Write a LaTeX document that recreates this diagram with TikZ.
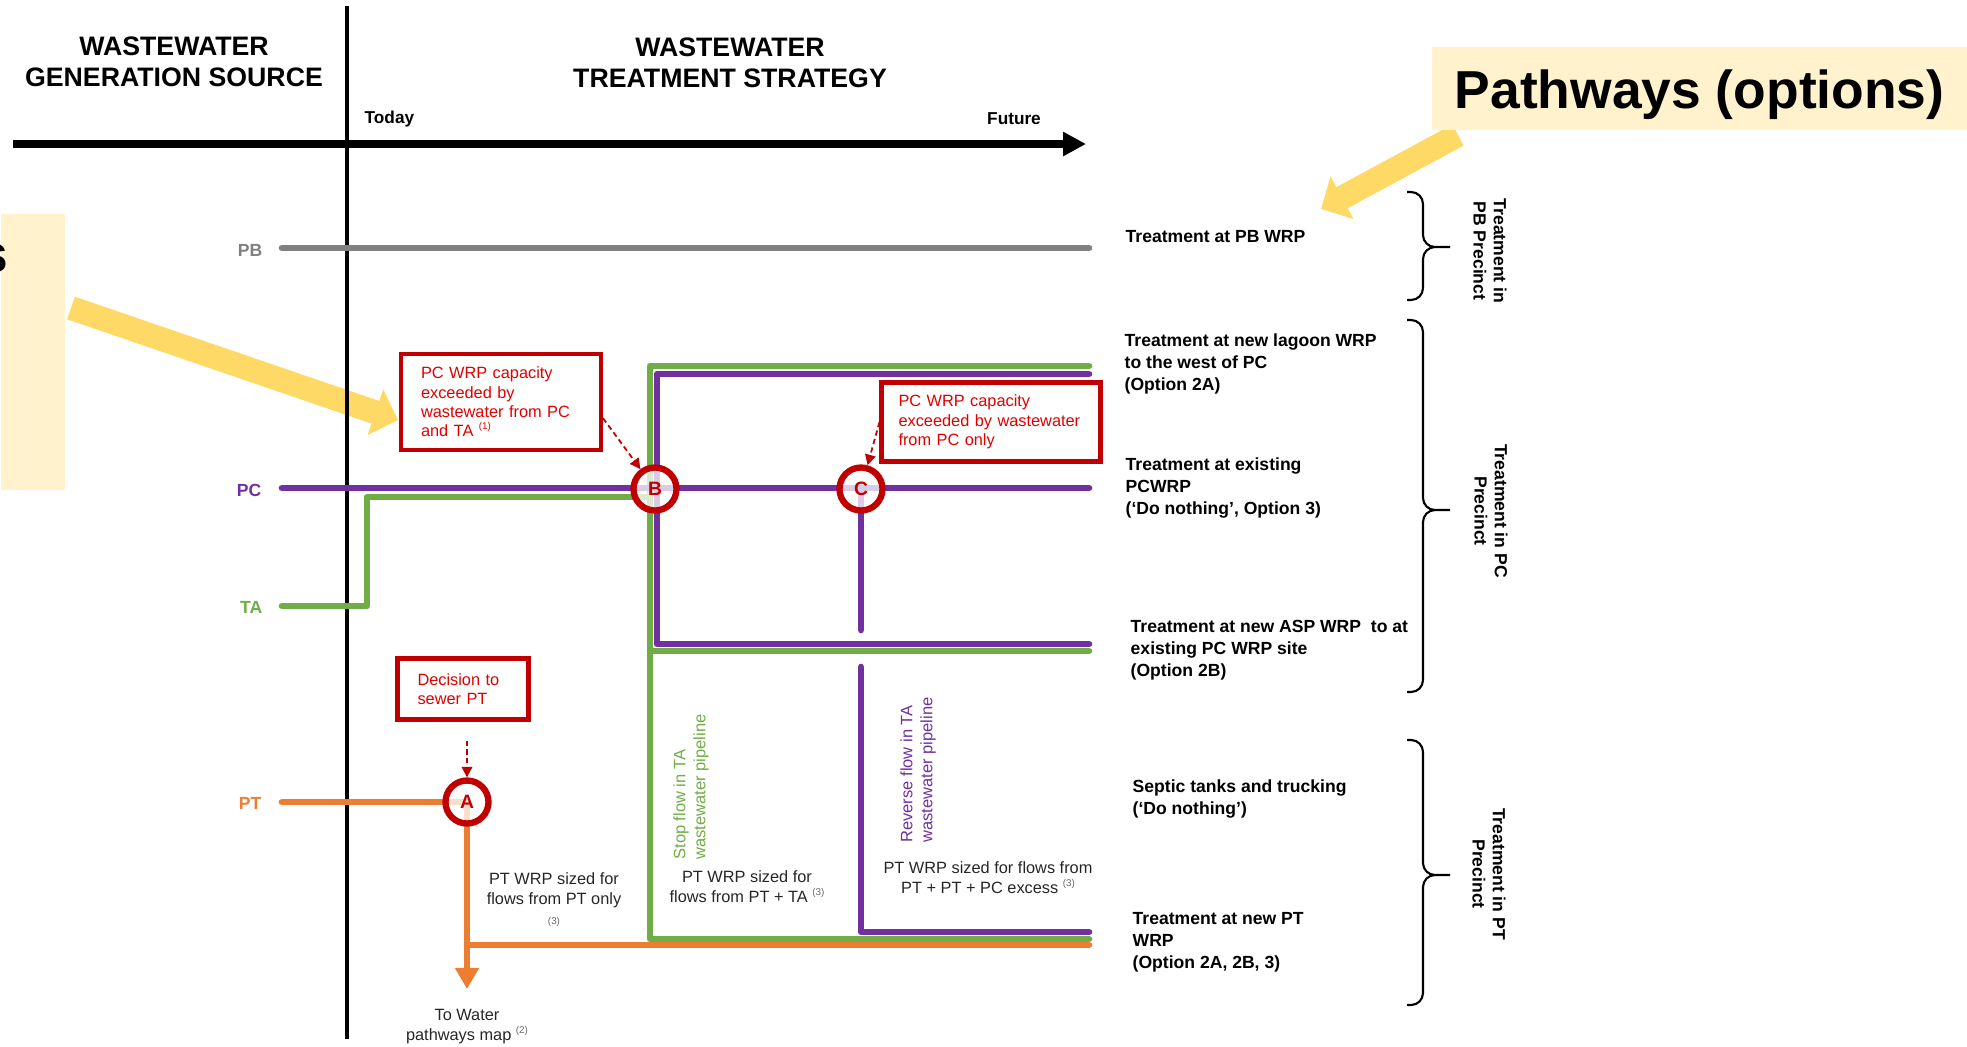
\documentclass[tikz,border=0pt]{standalone}
\usepackage{fontspec}
\setmainfont{Liberation Sans}
\usetikzlibrary{arrows.meta,positioning}

\definecolor{pbgray}{HTML}{808080}
\definecolor{pcpurple}{HTML}{7030A0}
\definecolor{tagreen}{HTML}{70AD47}
\definecolor{ptorange}{HTML}{ED7D31}
\definecolor{decred}{HTML}{C00000}
\definecolor{dectext}{HTML}{E00000}
\definecolor{cream}{HTML}{FFF2CC}
\definecolor{hiyellow}{HTML}{FFD966}

\newcommand{\refmark}[1]{\raisebox{0.9ex}{\fontsize{2.8}{3}\selectfont(#1)}}
\newcommand{\precbrace}[3]{%
  \draw[curly] (1407,#1) -| (1423,#2) -- (1450,#2) (1407,#3) -| (1423,#2) -- (1450,#2);}

\tikzset{
  flow/.style={line width=1.9pt, line cap=round, line join=round},
  timeline/.style={line width=2.1pt, -{Triangle[length=6.5pt,width=6.5pt]}},
  hdr/.style={font=\bfseries\fontsize{7.6}{8.9}\selectfont, align=center},
  when/.style={font=\bfseries\fontsize{4.9}{6}\selectfont, inner sep=0},
  src/.style={font=\bfseries\fontsize{5}{6}\selectfont, anchor=east, inner sep=0},
  option/.style={font=\bfseries\fontsize{5}{6.25}\selectfont, align=left, anchor=west, inner sep=0},
  precinct/.style={font=\bfseries\fontsize{5}{5.8}\selectfont, align=center, rotate=-90},
  curly/.style={line width=0.6pt, rounded corners=1.2mm},
  trigger/.style={draw=decred, line width=1.15pt, text=dectext, font=\fontsize{4.65}{5.5}\selectfont,
    align=left, inner xsep=2mm, inner ysep=0.5mm},
  decpoint/.style={circle, draw=decred, line width=1.8pt, fill=white, fill opacity=0.75, text opacity=1,
    text=decred, font=\bfseries\fontsize{5.5}{6}\selectfont, minimum size=4.3mm, inner sep=0},
  dasharr/.style={draw=decred, line width=0.5pt, dash pattern=on 1.5pt off 1pt, -{Triangle[length=3pt,width=3pt]}},
  note/.style={font=\fontsize{4.65}{5.7}\selectfont, align=center, text=black!85},
  pipe/.style={font=\fontsize{4.7}{5.7}\selectfont, align=left, rotate=90},
  hilite/.style={hiyellow, line width=6.8pt, -{Triangle[length=6.8pt,width=13.4pt]}}
}

\begin{document}
\begin{tikzpicture}[x=0.1mm,y=-0.1mm]
\useasboundingbox (0,0) rectangle (1967,1046);

\node[fill=cream, anchor=north west, minimum width=6.4mm, minimum height=27.6mm, inner sep=0] (leftnote) at (0,213) {};
\node[font=\bfseries\fontsize{15.2}{18}\selectfont, anchor=base east, inner sep=0] (leftword) at (9,272) {s};
\coordinate (lefttail) at (71,308);
\coordinate (lefttip) at (398,420);
\draw[hilite] (lefttail) -- (lefttip);

\coordinate (pathtail) at (1458,135);
\coordinate (pathtip) at (1321,209);
\draw[hilite] (pathtail) -- (pathtip);
\node[fill=cream, anchor=north west, minimum width=53.6mm, minimum height=8.3mm, inner sep=0] (pathbox) at (1431,46) {};
\node[font=\bfseries\fontsize{15.2}{18}\selectfont, anchor=west, inner sep=0] (pathways) at (1454,95) {Pathways (options)};

\node[hdr] (srchead) at (174,62) {WASTEWATER\\GENERATION SOURCE};
\node[hdr] (trthead) at (730,63) {WASTEWATER\\TREATMENT STRATEGY};
\node[when, anchor=west] (today) at (364,119) {Today};
\node[when] (future) at (1014,119) {Future};
\coordinate (t0) at (13,144);
\coordinate (t1) at (1086,144);
\draw[timeline] (t0) -- (t1);
\draw[line width=1pt] (347,6) -- (347,1039);

\node[src, text=pbgray] (pb) at (263,250) {PB};
\node[src, text=pcpurple] (pc) at (262,490) {PC};
\node[src, text=tagreen] (ta) at (263,607) {TA};
\node[src, text=ptorange] (pt) at (262,803) {PT};

\coordinate (jA) at (467,802);
\coordinate (jB) at (655,489);
\coordinate (jC) at (861,489);

\draw[flow, pbgray] (282,248) -- (1089,248);
\draw[flow, tagreen] (282,606) -| (367,497) -- (650,497);
\draw[flow, tagreen] (1089,366) -| (650,939) -- (1089,939) (650,651) -- (1089,651);
\draw[flow, pcpurple] (282,488) -- (1089,488);
\draw[flow, pcpurple] (1089,374) -| (657,644) -- (1089,644);
\draw[flow, pcpurple] (jC) -- (861,630) (861,667) |- (1089,932);
\draw[flow, ptorange] (282,802) -- (jA) (467,945) -- (1089,945);
\draw[flow, ptorange, -{Triangle[length=6pt,width=6.5pt]}] (jA) -- (467,989);

\node[decpoint] (A) at (jA) {A};
\node[decpoint] (B) at (jB) {B};
\node[decpoint] (C) at (jC) {C};

\node[trigger, text width=16mm, minimum height=9.6mm] (capboth) at (501,402)
  {PC WRP capacity\\exceeded by\\wastewater from PC\\and TA \refmark{1}};
\node[trigger, text width=18.5mm, inner xsep=1.7mm, minimum height=7.9mm] (caponly) at (991,422)
  {PC WRP capacity\\exceeded by wastewater\\from PC only};
\node[trigger, text width=9.1mm, minimum height=6.1mm] (decide) at (463,689) {Decision to\\sewer PT};
\draw[dasharr] (capboth.-9) -- (B);
\draw[dasharr] (caponly.west) -- (C);
\draw[dasharr, shorten <=1.9mm] (decide.south -| A) -- (A);

\node[pipe, text=tagreen] (stopflow) at (691,787) {Stop flow in TA\\wastewater pipeline};
\node[pipe, text=pcpurple] (reverse) at (918,770) {Reverse flow in TA\\wastewater pipeline};

\node[note] (ptonly) at (554,900) {PT WRP sized for\\flows from PT only\\\textcolor{black!60}{\fontsize{2.8}{3}\selectfont(3)}};
\node[note] (ptta) at (747,887) {PT WRP sized for\\flows from PT + TA \textcolor{black!60}{\refmark{3}}};
\node[note] (ptpc) at (988,878) {PT WRP sized for flows from\\PT + PT + PC excess \textcolor{black!60}{\refmark{3}}};
\node[note] (tomap) at (467,1027) {To Water\\pathways map \textcolor{black!60}{\refmark{2}}};

\node[option] (optpb) at (1125,237) {Treatment at PB WRP};
\node[option] (optlag) at (1124,364) {Treatment at new lagoon WRP\\to the west of PC\\(Option 2A)};
\node[option] (optex) at (1125,488) {Treatment at existing\\PCWRP\\(‘Do nothing’, Option 3)};
\node[option] (optasp) at (1130,650) {Treatment at new ASP WRP\ \ to at\\existing PC WRP site\\(Option 2B)};
\node[option] (optsep) at (1132,799) {Septic tanks and trucking\\(‘Do nothing’)};
\node[option] (optpt) at (1132,942) {Treatment at new PT\\WRP\\(Option 2A, 2B, 3)};

\precbrace{192}{247}{300}
\precbrace{320}{510}{692}
\precbrace{740}{875}{1005}
\node[precinct] (pbprec) at (1490,251) {Treatment in\\PB Precinct};
\node[precinct] (pcprec) at (1491,511) {Treatment in PC\\Precinct};
\node[precinct] (ptprec) at (1489,874) {Treatment in PT\\Precinct};
\end{tikzpicture}
\end{document}
